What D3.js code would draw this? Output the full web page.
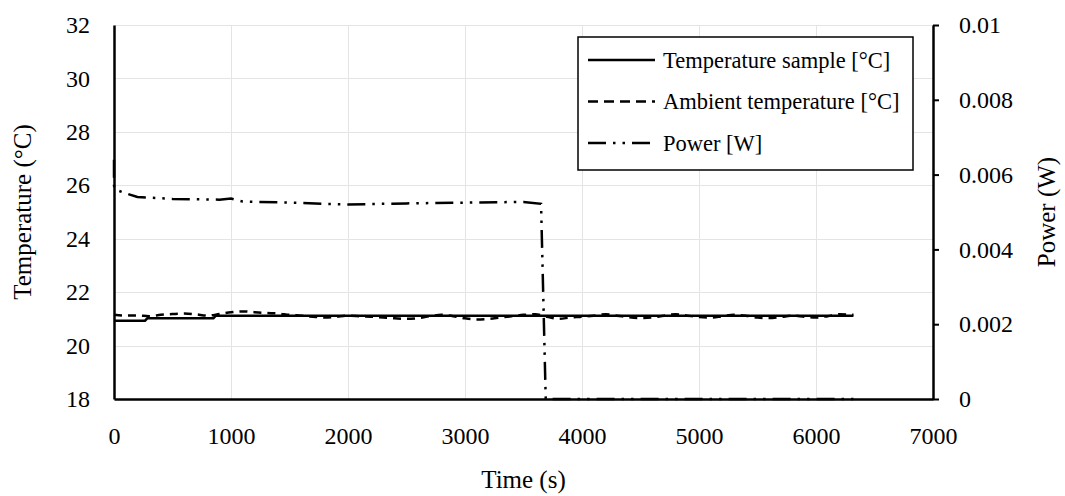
<!DOCTYPE html>
<html lang="en">

<head>
    <meta charset="UTF-8">
    <title>Temperature and Power</title>
    <script src="https://d3js.org/d3.v7.min.js"></script>
    <style>
        body { margin: 0; background: #fff; }
        svg text { font-family: "Liberation Serif", "DejaVu Serif", serif; fill: #000; }
    </style>
</head>

<body>
    <svg id="svg" width="1065" height="496"></svg>
</body>
<script>
    // time [s] / value pairs
    const sampleTime = [0, 265, 285, 850, 870, 6320];
    const sampleTemp = [20.93, 20.93, 21.02, 21.02, 21.12, 21.12];

    const ambientTime = [0, 100, 200, 300, 400, 500, 600, 700, 800, 900, 1000, 1100, 1200, 1300, 1400, 1500,
        1600, 1700, 1800, 1900, 2000, 2100, 2200, 2300, 2400, 2500, 2600, 2700, 2800, 2900, 3000, 3100, 3200,
        3300, 3400, 3500, 3600, 3700, 3800, 3900, 4000, 4100, 4200, 4300, 4400, 4500, 4600, 4700, 4800, 4900,
        5000, 5100, 5200, 5300, 5400, 5500, 5600, 5700, 5800, 5900, 6000, 6100, 6200, 6320];
    const ambientTemp = [21.15, 21.12, 21.13, 21.1, 21.15, 21.18, 21.2, 21.17, 21.12, 21.18, 21.25, 21.28, 21.25,
        21.22, 21.2, 21.15, 21.12, 21.08, 21.05, 21.08, 21.12, 21.1, 21.08, 21.05, 21.02, 21.0, 21.03, 21.1,
        21.15, 21.1, 21.02, 20.98, 21.0, 21.05, 21.1, 21.15, 21.17, 21.08, 21.0, 21.05, 21.08, 21.12, 21.17,
        21.12, 21.06, 21.03, 21.05, 21.12, 21.17, 21.12, 21.07, 21.05, 21.1, 21.15, 21.12, 21.05, 21.03, 21.07,
        21.12, 21.08, 21.05, 21.1, 21.17, 21.15];

    const powerTime = [0, 0, 10, 100, 200, 500, 900, 1000, 1100, 1500, 2000, 2500, 3000, 3500, 3650, 3690, 6320];
    const powerW = [0.0064, 0.0057, 0.0056, 0.0055, 0.0054, 0.00535, 0.00533, 0.00536, 0.00528, 0.00525,
        0.0052, 0.00523, 0.00525, 0.00527, 0.00522, 0, 0];

    const xTicks = [0, 1000, 2000, 3000, 4000, 5000, 6000, 7000];
    const tempTicks = [18, 20, 22, 24, 26, 28, 30, 32];
    const powerTicks = [0, 0.002, 0.004, 0.006, 0.008, 0.01];
    const legendLabels = ["Temperature sample [°C]", "Ambient temperature [°C]", "Power [W]"];

    const svg = d3.select("#svg");
    const pLeft = 114, pRight = 933, pTop = 25, pBottom = 399;

    const x = d3.scaleLinear().domain([0, 7000]).range([pLeft, pRight]);
    const yT = d3.scaleLinear().domain([18, 32]).range([pBottom, pTop]);
    const yP = d3.scaleLinear().domain([0, 0.01]).range([pBottom, pTop]);

    // grid
    const grid = svg.append("g").attr("stroke", "#e4e4e4").attr("stroke-width", 1);
    grid.selectAll(".h").data(tempTicks).join("line")
        .attr("x1", pLeft).attr("x2", pRight)
        .attr("y1", d => Math.round(yT(d)) + 0.5).attr("y2", d => Math.round(yT(d)) + 0.5);
    grid.selectAll(".v").data(xTicks.slice(1)).join("line")
        .attr("y1", pTop).attr("y2", pBottom)
        .attr("x1", d => Math.round(x(d)) + 0.5).attr("x2", d => Math.round(x(d)) + 0.5);

    // series
    const lineSample = d3.line().x((d, i) => x(sampleTime[i])).y(d => yT(d));
    const lineAmbient = d3.line().x((d, i) => x(ambientTime[i])).y(d => yT(d)).curve(d3.curveMonotoneX);
    const linePower = d3.line().x((d, i) => x(powerTime[i])).y(d => yP(d));

    const dashAmb = "8,6";
    const dashPow = "18,7,2.5,7,2.5,7";

    svg.append("path").attr("d", lineAmbient(ambientTemp)).attr("fill", "none")
        .attr("stroke", "#000").attr("stroke-width", 2.5).attr("stroke-dasharray", dashAmb);
    svg.append("path").attr("d", linePower(powerW)).attr("fill", "none")
        .attr("stroke", "#000").attr("stroke-width", 2.5).attr("stroke-dasharray", dashPow);
    svg.append("path").attr("d", lineSample(sampleTemp)).attr("fill", "none")
        .attr("stroke", "#000").attr("stroke-width", 2.5);

    // axes
    const xAxis = svg.append("g").attr("transform", `translate(0,${pBottom})`)
        .call(d3.axisBottom(x).tickValues(xTicks).tickSize(0).tickPadding(28).tickFormat(d3.format("d")));
    const yAxisL = svg.append("g").attr("transform", `translate(${pLeft},0)`)
        .call(d3.axisLeft(yT).tickValues(tempTicks).tickSize(0).tickPadding(24));
    const yAxisR = svg.append("g").attr("transform", `translate(${pRight},0)`)
        .call(d3.axisRight(yP).tickValues(powerTicks).tickSizeInner(6).tickSizeOuter(0).tickPadding(20)
            .tickFormat(d => d === 0 ? "0" : String(+d.toFixed(3))));
    [xAxis, yAxisL, yAxisR].forEach(g => {
        g.select(".domain").attr("stroke", "#000").attr("stroke-width", 2.5);
        g.selectAll(".tick line").attr("stroke", "#000").attr("stroke-width", 2);
        g.selectAll("text").attr("font-size", 24).attr("font-family", null);
    });

    // titles
    svg.append("text").attr("x", (pLeft + pRight) / 2).attr("y", 488).attr("text-anchor", "middle")
        .attr("font-size", 25).text("Time (s)");
    svg.append("text").attr("transform", `translate(31,${(pTop + pBottom) / 2}) rotate(-90)`)
        .attr("text-anchor", "middle").attr("font-size", 25).text("Temperature (°C)");
    svg.append("text").attr("transform", `translate(1055,${(pTop + pBottom) / 2}) rotate(-90)`)
        .attr("text-anchor", "middle").attr("font-size", 25).text("Power (W)");

    // legend
    const legend = svg.append("g");
    legend.append("rect").attr("x", 578).attr("y", 37).attr("width", 335).attr("height", 133)
        .attr("fill", "#fff").attr("stroke", "#000").attr("stroke-width", 1.5);
    const dashes = [null, "10,6", dashPow];
    legendLabels.forEach((label, i) => {
        const cy = 60 + i * 41.5;
        legend.append("line").attr("x1", 588).attr("x2", 655).attr("y1", cy).attr("y2", cy)
            .attr("stroke", "#000").attr("stroke-width", 2.5).attr("stroke-dasharray", dashes[i]);
        legend.append("text").attr("x", 663).attr("y", cy).attr("dy", "0.35em")
            .attr("font-size", 22.5).text(label);
    });
</script>

</html>
